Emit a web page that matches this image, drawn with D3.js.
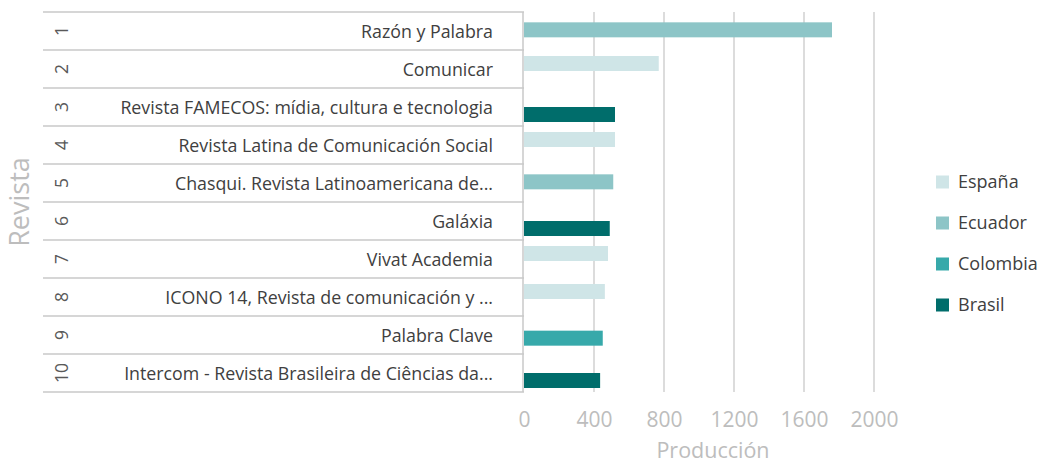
<!DOCTYPE html>
<html>
<head>
<meta charset="utf-8">
<script src="https://cdn.jsdelivr.net/npm/d3@7"></script>
<style>
  body { margin: 0; background: #fff; }
  svg { font-family: "Open Sans", "Noto Sans", sans-serif; }
</style>
</head>
<body>
<svg width="1041" height="464"></svg>
<script>
// data
const ranks = ["1", "2", "3", "4", "5", "6", "7", "8", "9", "10"];
const revistas = [
  "Razón y Palabra",
  "Comunicar",
  "Revista FAMECOS: mídia, cultura e tecnologia",
  "Revista Latina de Comunicación Social",
  "Chasqui. Revista Latinoamericana de...",
  "Galáxia",
  "Vivat Academia",
  "ICONO 14, Revista de comunicación y ...",
  "Palabra Clave",
  "Intercom - Revista Brasileira de Ciências da..."
];
const paises = ["España", "Ecuador", "Colombia", "Brasil"];
const paisRevista = ["Ecuador", "España", "Brasil", "España", "Ecuador", "Brasil", "España", "España", "Colombia", "Brasil"];
const produccion = [1760, 770, 520, 520, 510, 490, 480, 462, 450, 435];
const xTicks = [0, 400, 800, 1200, 1600, 2000];
const colores = ["#cfe5e7", "#8dc5c7", "#37a9aa", "#006d6b"];

const svg = d3.select("svg");
const plotLeft = 524, plotRight = 874, plotTop = 12, plotBottom = 392;

const x = d3.scaleLinear().domain([0, 2000]).range([plotLeft, plotRight]);
const y = d3.scaleBand().domain(ranks).range([plotTop, plotBottom]);
const inner = d3.scalePoint().domain(paises).range([6, 19]);
const color = d3.scaleOrdinal().domain(paises).range(colores);

// vertical gridlines
svg.append("g").selectAll("line").data(xTicks.slice(1)).enter().append("line")
  .attr("x1", d => x(d)).attr("x2", d => x(d))
  .attr("y1", plotTop).attr("y2", plotBottom)
  .attr("stroke", "#d0d0d0").attr("stroke-width", 1.5);

// table rows on the left
svg.append("g").selectAll("line").data(d3.range(ranks.length + 1)).enter().append("line")
  .attr("x1", 43).attr("x2", plotLeft)
  .attr("y1", i => plotTop + i * y.step()).attr("y2", i => plotTop + i * y.step())
  .attr("stroke", "#c8c8c8").attr("stroke-width", 1.5);

svg.append("line").attr("x1", plotLeft - 1).attr("x2", plotLeft - 1).attr("y1", plotTop).attr("y2", plotBottom)
  .attr("stroke", "#c8c8c8").attr("stroke-width", 1.5);

const rows = svg.append("g").selectAll("g").data(ranks).enter().append("g")
  .attr("transform", d => "translate(0," + (y(d) + y.bandwidth() / 2) + ")");

rows.append("text")
  .attr("transform", "translate(62,0) rotate(-90)")
  .attr("text-anchor", "middle").attr("dy", "0.35em")
  .attr("font-size", 17.5).attr("fill", "#595959")
  .text(d => d);

rows.append("text")
  .attr("x", 493).attr("text-anchor", "end").attr("dy", "0.42em")
  .attr("font-size", 17.8).attr("fill", "#404040")
  .text((d, i) => revistas[i]);

// bars
svg.append("g").selectAll("rect").data(ranks).enter().append("rect")
  .attr("x", x(0))
  .attr("y", (d, i) => y(d) + inner(paisRevista[i]))
  .attr("width", (d, i) => x(produccion[i]) - x(0))
  .attr("height", 15)
  .attr("fill", (d, i) => color(paisRevista[i]));

// x axis
const xAxis = svg.append("g").attr("transform", "translate(0," + plotBottom + ")")
  .call(d3.axisBottom(x).tickValues(xTicks).tickFormat(d3.format("d")).tickSize(0).tickPadding(20));
xAxis.select(".domain").remove();
xAxis.selectAll("text").attr("font-size", 21).attr("fill", "#bdbdbd")
  .attr("font-family", "Open Sans, sans-serif");

svg.append("text").attr("x", x(1080)).attr("y", 458)
  .attr("text-anchor", "middle").attr("font-size", 21.5).attr("fill", "#bdbdbd")
  .text("Producción");

svg.append("text").attr("transform", "translate(29,202) rotate(-90)")
  .attr("text-anchor", "middle").attr("font-size", 27).attr("fill", "#bdbdbd")
  .text("Revista");

// legend
const legend = svg.append("g").selectAll("g").data(paises).enter().append("g")
  .attr("transform", (d, i) => "translate(936," + (182 + i * 41) + ")");
legend.append("rect").attr("x", 0).attr("y", -6.5).attr("width", 13).attr("height", 13)
  .attr("fill", d => color(d));
legend.append("text").attr("x", 22).attr("dy", "0.35em")
  .attr("font-size", 18).attr("fill", "#404040").text(d => d);
</script>
</body>
</html>
